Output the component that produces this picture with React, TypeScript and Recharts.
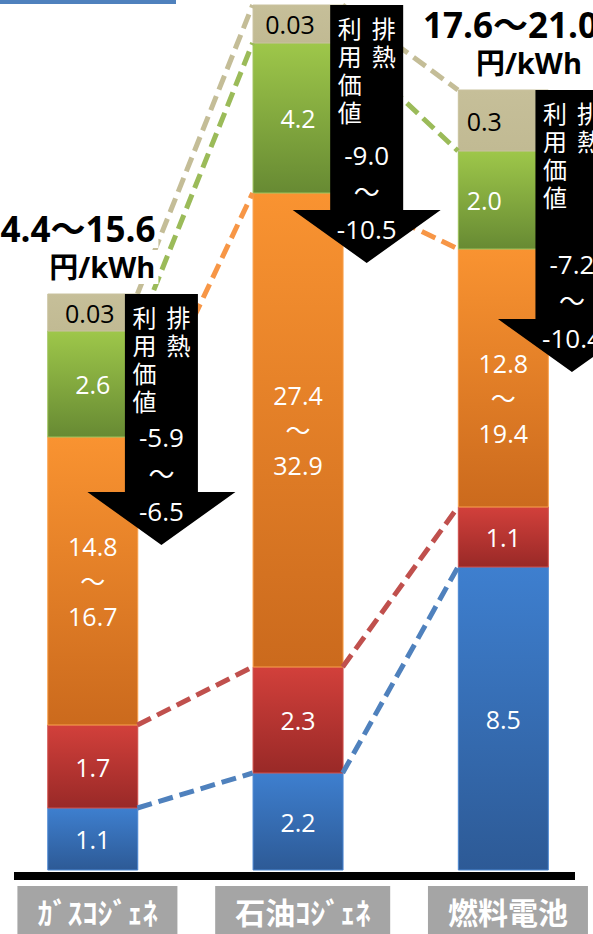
import React from 'react'
import {
  ComposedChart,
  Bar,
  XAxis,
  YAxis,
  ReferenceLine,
  ReferenceArea,
  ReferenceDot,
  LabelList,
} from 'recharts'

const categories = ['ｶﾞｽｺｼﾞｪﾈ', '石油ｺｼﾞｪﾈ', '燃料電池']

// segment heights as drawn in the picture (the figure is schematic, not to scale)
const blueH = [6.2, 9.7, 30.3]
const redH = [8.3, 10.6, 6.0]
const orangeH = [28.8, 47.4, 25.8]
const greenH = [10.6, 15.0, 9.8]
const tanH = [3.7, 3.8, 6.1]
// where the black heat-value arrow ends
const arrowTip = [32.5, 60.7, 49.8]

// printed values
const blueLabel = ['1.1', '2.2', '8.5']
const redLabel = ['1.7', '2.3', '1.1']
const orangeLow = ['14.8', '27.4', '12.8']
const orangeHigh = ['16.7', '32.9', '19.4']
const greenLabel = ['2.6', '4.2', '2.0']
const tanLabel = ['0.03', '0.03', '0.3']
const heatLow = ['-5.9', '-9.0', '-7.2']
const heatHigh = ['-6.5', '-10.5', '-10.4']
const totalLabel = ['14.4～15.6', null, '17.6～21.0']
const totalUnit = '円/kWh'
const heatCaption = ['排熱', '利用価値'] // vertical columns, right to left

const W = 593
const H = 934
const M = { top: 0, right: 18, bottom: 0, left: 14 }
const X_DOMAIN: [number, number] = [-0.382, 2.351]
const Y_DOMAIN: [number, number] = [-0.6, 87]
const BAR_W = 90
const HALF = BAR_W / 2 / ((W - M.left - M.right) / (X_DOMAIN[1] - X_DOMAIN[0]))

const NUM_FONT = "'Open Sans', 'Noto Sans CJK JP', sans-serif"
const JP_FONT = "'Noto Sans CJK JP', sans-serif"

const series = [
  { key: 'blue', h: blueH, line: '#4f81bd', top: '#3e7fcf', bottom: '#2d5a96', edge: '#4d88d2', ink: '#fff' },
  { key: 'red', h: redH, line: '#c0504d', top: '#d2403b', bottom: '#992927', edge: '#d0504c', ink: '#fff' },
  { key: 'orange', h: orangeH, line: '#f79646', top: '#f99331', bottom: '#cb6a1d', edge: '#f9a04c', ink: '#fff' },
  { key: 'green', h: greenH, line: '#9bbb59', top: '#9ec74a', bottom: '#678a33', edge: '#9dc25a', ink: '#fff' },
  { key: 'tan', h: tanH, line: '#c4bd97', top: '#c6bf99', bottom: '#c1ba93', edge: '#c9c29e', ink: '#000' },
]

const data = categories.map((name, i) => ({
  pos: i,
  name,
  blue: blueH[i],
  red: redH[i],
  orange: orangeH[i],
  green: greenH[i],
  tan: tanH[i],
}))

// cumulative top of every segment
const tops = series.map((_, s) => categories.map((__, i) => series.slice(0, s + 1).reduce((a, r) => a + r.h[i], 0)))
const totals = tops[tops.length - 1]

const labelText: Record<string, (i: number) => string[]> = {
  blue: (i) => [blueLabel[i]],
  red: (i) => [redLabel[i]],
  orange: (i) => [orangeLow[i], '～', orangeHigh[i]],
  green: (i) => [greenLabel[i]],
  tan: (i) => [tanLabel[i]],
}

// small nudges so labels stay clear of the arrows
const nudge: Record<string, [number, number]> = {
  'tan-0': [-3, 0],
  'tan-1': [-8, 0],
  'tan-2': [-19, 0],
  'green-2': [-19, 0],
  'orange-2': [0, 20],
}

const Gradients = () => (
  <svg width="0" height="0" style={{ position: 'absolute' }}>
    <defs>
      {series.map((s) => (
        <linearGradient key={s.key} id={`grad-${s.key}`} x1="0" y1="0" x2="0" y2="1">
          <stop offset="0%" stopColor={s.top} />
          <stop offset="100%" stopColor={s.bottom} />
        </linearGradient>
      ))}
    </defs>
  </svg>
)

const segLabel = (key: string, ink: string) => (p: any) => {
  const { x, y, width, height, index } = p
  const lines = labelText[key](index)
  const [dx, dy] = nudge[`${key}-${index}`] ?? [0, 0]
  const cx = x + width / 2 + dx
  const cy = y + height / 2 + dy
  const step = 35
  return (
    <g>
      {lines.map((t, k) => (
        <text
          key={k}
          x={cx}
          y={cy + (k - (lines.length - 1) / 2) * step}
          textAnchor="middle"
          dominantBaseline="central"
          fill={ink}
          fontSize={25}
          fontFamily={NUM_FONT}
        >
          {t}
        </text>
      ))}
    </g>
  )
}

const HeatArrow = (p: any) => {
  const { x, y, width, height, i } = p
  const cx = x + width / 2 + 69
  const top = y
  const tip = y + height
  const base = tip - 53
  const sw = 36.5
  const hw = 74
  const pts = [
    [cx - sw, top],
    [cx + sw, top],
    [cx + sw, base],
    [cx + hw, base],
    [cx, tip],
    [cx - hw, base],
    [cx - sw, base],
  ]
    .map((q) => q.join(','))
    .join(' ')
  return (
    <g>
      <polygon points={pts} fill="#000" />
      {heatCaption.map((col, c) => (
        <text
          key={`c${c}`}
          x={cx + (c === 0 ? 17 : -17)}
          textAnchor="middle"
          fill="#fff"
          fontSize={24}
          fontFamily={JP_FONT}
        >
          {[...col].map((ch, k) => (
            <tspan key={k} x={cx + (c === 0 ? 17 : -17)} y={top + 33 + k * 28}>
              {ch}
            </tspan>
          ))}
        </text>
      ))}
      {[heatLow[i], '～', heatHigh[i]].map((t, k) => (
        <text
          key={`n${k}`}
          x={cx}
          y={base - 55 + k * 37}
          textAnchor="middle"
          dominantBaseline="central"
          fill="#fff"
          fontSize={26}
          fontFamily={NUM_FONT}
        >
          {t}
        </text>
      ))}
    </g>
  )
}

const totalPlace = [
  { dx1: 63, dx2: 63, bg: true },
  null,
  { dx1: 95, dx2: 79, bg: false },
]

const TotalText = (p: any) => {
  const { cx, cy, i } = p
  const pl = totalPlace[i]
  const t = totalLabel[i]
  if (!pl || !t) return <g />
  const r1 = cx + pl.dx1
  const r2 = cx + pl.dx2
  const b1 = cy - 52
  const b2 = cy - 16
  return (
    <g>
      {pl.bg ? (
        <>
          <rect x={r1 - 190} y={b1 - 30} width={193} height={36} fill="#fff" />
          <rect x={r2 - 112} y={b2 - 28} width={115} height={34} fill="#fff" />
        </>
      ) : null}
      <text x={r1} y={b1} textAnchor="end" fontSize={35} fontWeight={700} fontFamily={NUM_FONT} fill="#000">
        {t}
      </text>
      <text x={r2} y={b2} textAnchor="end" fontSize={29} fontWeight={700} fontFamily={NUM_FONT} fill="#000">
        {totalUnit}
      </text>
    </g>
  )
}

const CatTick = (p: any) => {
  const { x, y, payload } = p
  const name = categories[payload.value]
  if (!name) return <g />
  const em = [...name].reduce((a, ch) => a + (ch >= '\uff61' && ch <= '\uff9f' ? 0.5 : 1), 0)
  const w = em * 30 + 40
  const cx = x + 5
  return (
    <g>
      <rect x={cx - w / 2} y={y} width={w} height={50} fill="#a5a5a5" />
      <text
        x={cx}
        y={y + 25}
        textAnchor="middle"
        dominantBaseline="central"
        fill="#fff"
        fontSize={30}
        fontWeight={700}
        fontFamily={JP_FONT}
      >
        {name}
      </text>
    </g>
  )
}

export default function App() {
  return (
    <div style={{ position: 'absolute', left: 0, top: 0, width: W, height: H, background: '#fff' }}>
      <Gradients />
      <div style={{ position: 'absolute', left: 0, top: 0, width: 176, height: 4, background: '#4f81bd' }} />
      <ComposedChart width={W} height={H} data={data} margin={M}>
        <XAxis
          type="number"
          dataKey="pos"
          domain={X_DOMAIN}
          allowDataOverflow
          ticks={[0, 1, 2]}
          interval={0}
          tickLine={false}
          tickSize={0}
          tickMargin={10}
          height={58}
          axisLine={{ stroke: '#000', strokeWidth: 8 }}
          tick={<CatTick />}
        />
        <YAxis hide type="number" domain={Y_DOMAIN} allowDataOverflow />
        {series.map((s) => (
          <Bar
            key={s.key}
            dataKey={s.key}
            stackId="s"
            barSize={BAR_W}
            fill={`url(#grad-${s.key})`}
            stroke={s.edge}
            strokeWidth={1}
            isAnimationActive={false}
          >
            <LabelList dataKey={s.key} content={segLabel(s.key, s.ink)} />
          </Bar>
        ))}
        {series.map((s, si) =>
          [0, 1].map((i) => (
            <ReferenceLine
              key={`${s.key}-${i}`}
              segment={[
                { x: i + HALF, y: tops[si][i] },
                { x: i + 1 - HALF, y: tops[si][i + 1] },
              ]}
              stroke={s.line}
              strokeWidth={5}
              strokeDasharray="15 7"
              ifOverflow="visible"
              zIndex={400}
            />
          ))
        )}
        {categories.map((_, i) => (
          <ReferenceArea
            key={`arrow-${i}`}
            x1={i - HALF}
            x2={i + HALF}
            y1={arrowTip[i]}
            y2={totals[i]}
            ifOverflow="visible"
            zIndex={700}
            shape={(p: any) => <HeatArrow {...p} i={i} />}
          />
        ))}
        {categories.map((_, i) => (
          <ReferenceDot
            key={`total-${i}`}
            x={i}
            y={totals[i]}
            r={0}
            ifOverflow="visible"
            zIndex={800}
            shape={(p: any) => <TotalText {...p} i={i} />}
          />
        ))}
      </ComposedChart>
    </div>
  )
}
